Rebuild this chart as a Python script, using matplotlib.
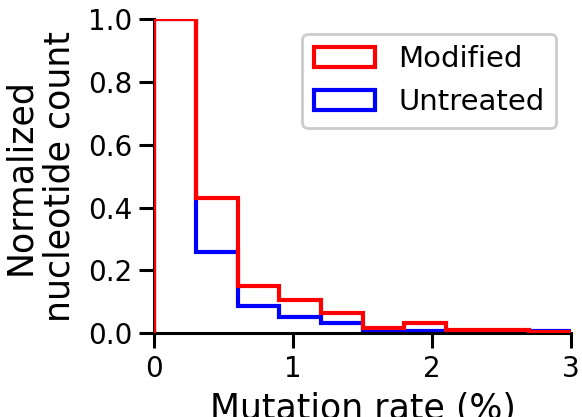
import numpy as np
import matplotlib
matplotlib.use("Agg")
import matplotlib.pyplot as plt

bin_edges = [0.0, 0.3, 0.6, 0.9, 1.2, 1.5, 1.8, 2.1, 2.4, 2.7, 3.0]
modified = [1.0, 0.43, 0.15, 0.105, 0.065, 0.017, 0.031, 0.011, 0.011, 0.003]
untreated = [1.0, 0.26, 0.088, 0.052, 0.033, 0.007, 0.006, 0.005, 0.005, 0.007]
labels = ["Modified", "Untreated"]
xticks = [0, 1, 2, 3]
yticks = [0.0, 0.2, 0.4, 0.6, 0.8, 1.0]

edges = np.array(bin_edges)
centers = (edges[:-1] + edges[1:]) / 2

fig = plt.figure(figsize=(5.82, 4.17), dpi=100)
ax = fig.add_axes([0.265, 0.201, 0.716, 0.753])

ax.hist(centers, bins=edges, weights=untreated, histtype="step",
        color="blue", linewidth=3, label=labels[1], zorder=2)
ax.hist(centers, bins=edges, weights=modified, histtype="step",
        color="red", linewidth=3, label=labels[0], zorder=3)

ax.set_xlim(0, 3)
ax.set_ylim(0, 1.0)
ax.set_xticks(xticks)
ax.set_xticklabels([str(t) for t in xticks])
ax.set_yticks(yticks)
ax.set_yticklabels([f"{t:.1f}" for t in yticks])

for s in ["top", "right"]:
    ax.spines[s].set_visible(False)
for s in ["left", "bottom"]:
    ax.spines[s].set_linewidth(2.2)
ax.tick_params(axis="both", length=11, width=2.2, labelsize=20, pad=5)

ax.set_xlabel("Mutation rate (%)", fontsize=25, labelpad=6)
ax.set_ylabel("Normalized\nnucleotide count", fontsize=25, labelpad=8)

h, l = ax.get_legend_handles_labels()
order = [l.index(x) for x in labels]
leg = ax.legend([h[i] for i in order], [l[i] for i in order],
                loc="upper right", fontsize=21, frameon=True,
                fancybox=True, edgecolor="#cccccc", framealpha=1.0,
                handlelength=2.1)
leg.get_frame().set_linewidth(2)

fig.savefig("out.png", dpi=100)
